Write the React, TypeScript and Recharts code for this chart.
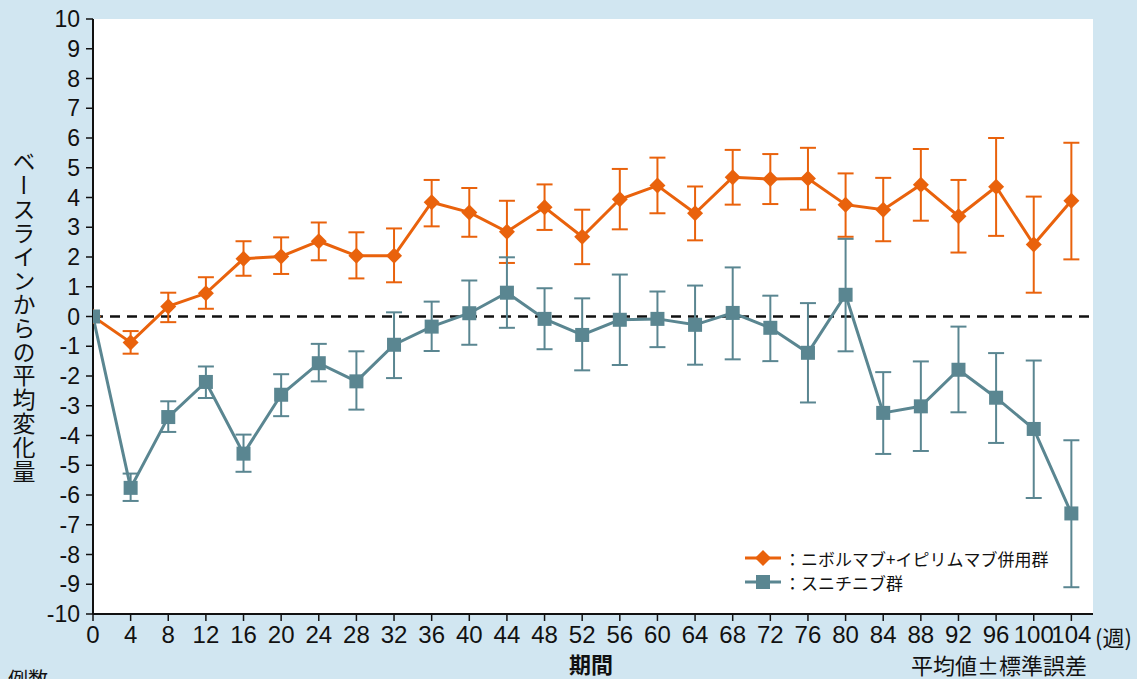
import React from 'react';
import { LineChart, Line, XAxis, YAxis, ErrorBar, ReferenceLine, CartesianGrid } from 'recharts';

const weeks = [0, 4, 8, 12, 16, 20, 24, 28, 32, 36, 40, 44, 48, 52, 56, 60, 64, 68, 72, 76, 80, 84, 88, 92, 96, 100, 104];
const yTicks = [-10, -9, -8, -7, -6, -5, -4, -3, -2, -1, 0, 1, 2, 3, 4, 5, 6, 7, 8, 9, 10];

// ニボルマブ+イピリムマブ併用群
const nivoMean = [0, -0.87, 0.34, 0.78, 1.94, 2.02, 2.53, 2.04, 2.04, 3.84, 3.5, 2.85, 3.67, 2.68, 3.94, 4.4, 3.47, 4.68, 4.62, 4.64, 3.76, 3.59, 4.43, 3.37, 4.36, 2.42, 3.89];
const nivoUpper = [null, -0.49, 0.8, 1.32, 2.53, 2.66, 3.16, 2.83, 2.96, 4.59, 4.32, 3.89, 4.44, 3.59, 4.96, 5.34, 4.37, 5.6, 5.46, 5.67, 4.81, 4.66, 5.63, 4.59, 6.0, 4.03, 5.84];
const nivoLower = [null, -1.25, -0.19, 0.26, 1.37, 1.43, 1.89, 1.28, 1.15, 3.03, 2.68, 1.8, 2.91, 1.76, 2.93, 3.47, 2.56, 3.76, 3.78, 3.59, 2.68, 2.53, 3.22, 2.15, 2.71, 0.8, 1.92];

// スニチニブ群
const suniMean = [0, -5.76, -3.38, -2.2, -4.61, -2.63, -1.57, -2.18, -0.95, -0.34, 0.11, 0.8, -0.08, -0.62, -0.11, -0.08, -0.28, 0.12, -0.38, -1.22, 0.73, -3.24, -3.02, -1.79, -2.73, -3.78, -6.62];
const suniUpper = [null, -5.28, -2.85, -1.68, -3.97, -1.94, -0.92, -1.17, 0.14, 0.5, 1.21, 1.99, 0.95, 0.61, 1.41, 0.84, 1.04, 1.65, 0.7, 0.45, 2.61, -1.87, -1.51, -0.34, -1.23, -1.48, -4.16];
const suniLower = [null, -6.2, -3.88, -2.74, -5.22, -3.35, -2.18, -3.13, -2.07, -1.16, -0.95, -0.38, -1.1, -1.81, -1.63, -1.03, -1.62, -1.44, -1.5, -2.89, -1.17, -4.62, -4.52, -3.22, -4.25, -6.1, -9.1];

const ORANGE = '#e9620c';
const TEAL = '#5a8691';
const BG = '#d1e6f1';
const JP = '"Noto Sans CJK JP", sans-serif';

const err = (m: number, up: number | null, lo: number | null) =>
  up == null || lo == null ? undefined : [m - lo, up - m];

const chartData = weeks.map((w, i) => ({
  week: w,
  nivo: nivoMean[i],
  nivoErr: err(nivoMean[i], nivoUpper[i], nivoLower[i]),
  suni: suniMean[i],
  suniErr: err(suniMean[i], suniUpper[i], suniLower[i]),
}));

const Diamond = ({ cx, cy, r = 8 }: { cx: number; cy: number; r?: number }) => (
  <path d={`M${cx},${cy - r}L${cx + r},${cy}L${cx},${cy + r}L${cx - r},${cy}Z`} fill={ORANGE} />
);
const Square = ({ cx, cy, s = 7 }: { cx: number; cy: number; s?: number }) => (
  <rect x={cx - s} y={cy - s} width={s * 2} height={s * 2} fill={TEAL} />
);

const legendItems = [
  { label: '：ニボルマブ+イピリムマブ併用群', color: ORANGE, shape: 'diamond' },
  { label: '：スニチニブ群', color: TEAL, shape: 'square' },
];

export default function App() {
  return (
    <div style={{ position: 'absolute', left: 0, top: 0, width: 1137, height: 679, background: BG, overflow: 'hidden', fontFamily: '"Liberation Sans", Arial, sans-serif' }}>
      <LineChart width={1137} height={679} data={chartData} margin={{ top: 19, right: 44, bottom: 30, left: 33 }}>
        <CartesianGrid horizontal={false} vertical={false} fill="#fff" />
        <XAxis
          dataKey="week" type="number" domain={[0, 106.3]} allowDataOverflow ticks={weeks} interval={0}
          tick={{ fontSize: 24, fill: '#111' }} tickSize={7} tickMargin={5}
          axisLine={{ stroke: '#111', strokeWidth: 2 }} tickLine={{ stroke: '#111', strokeWidth: 1.5 }}
          height={35}
        />
        <YAxis
          type="number" domain={[-10, 10]} ticks={yTicks} interval={0}
          tick={{ fontSize: 23, fill: '#111' }} tickSize={7} tickMargin={6}
          axisLine={{ stroke: '#111', strokeWidth: 2 }} tickLine={{ stroke: '#111', strokeWidth: 1.5 }}
          width={60}
        />
        <ReferenceLine y={0} stroke="#111" strokeWidth={2.5} strokeDasharray="10 7" />
        <Line dataKey="nivo" stroke={ORANGE} strokeWidth={3} isAnimationActive={false}
          dot={(p: any) => <Diamond key={`n${p.index}`} cx={p.cx} cy={p.cy} />} activeDot={false}>
          <ErrorBar dataKey="nivoErr" direction="y" width={8} stroke={ORANGE} strokeWidth={2} isAnimationActive={false} />
        </Line>
        <Line dataKey="suni" stroke={TEAL} strokeWidth={3} isAnimationActive={false}
          dot={(p: any) => <Square key={`s${p.index}`} cx={p.cx} cy={p.cy} />} activeDot={false}>
          <ErrorBar dataKey="suniErr" direction="y" width={8} stroke={TEAL} strokeWidth={2} isAnimationActive={false} />
        </Line>
      </LineChart>

      {/* legend */}
      <div style={{ position: 'absolute', left: 743, top: 546, fontFamily: JP, fontSize: 17, color: '#111' }}>
        {legendItems.map((it) => (
          <div key={it.label} style={{ display: 'flex', alignItems: 'center', height: 24 }}>
            <svg width={40} height={20}>
              <line x1={2} y1={10} x2={38} y2={10} stroke={it.color} strokeWidth={3} />
              {it.shape === 'diamond' ? <Diamond cx={20} cy={10} /> : <Square cx={20} cy={10} />}
            </svg>
            <span style={{ marginLeft: 1 }}>{it.label}</span>
          </div>
        ))}
      </div>

      {/* y-axis title */}
      <div style={{ position: 'absolute', left: 11, top: 150, height: 336, writingMode: 'vertical-rl', fontFamily: JP, fontSize: 23, letterSpacing: 0.8, color: '#111', lineHeight: '26px' }}>
        ベースラインからの平均変化量
      </div>

      <div style={{ position: 'absolute', left: 1095, top: 620, fontFamily: JP, fontSize: 22, color: '#111' }}>(週)</div>
      <div style={{ position: 'absolute', left: 569, top: 648, fontFamily: JP, fontSize: 22, fontWeight: 700, color: '#111', lineHeight: '30px' }}>期間</div>
      <div style={{ position: 'absolute', left: 911, top: 649, fontFamily: JP, fontSize: 22, color: '#111', lineHeight: '30px' }}>平均値±標準誤差</div>
      <div style={{ position: 'absolute', left: 8, top: 666, fontFamily: JP, fontSize: 20, color: '#111', lineHeight: '26px' }}>例数</div>
    </div>
  );
}
